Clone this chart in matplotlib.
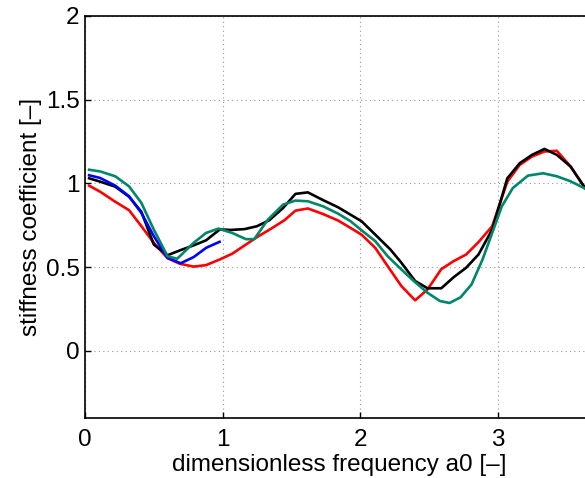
import matplotlib
matplotlib.use("Agg")
import matplotlib.pyplot as plt

# values
x_black = [0.03, 0.11, 0.22, 0.32, 0.41, 0.50, 0.60, 0.69, 0.79, 0.88, 0.98, 1.06, 1.16,
           1.25, 1.34, 1.44, 1.53, 1.62, 1.73, 1.84, 1.93, 2.01, 2.11, 2.22, 2.30, 2.40,
           2.49, 2.59, 2.68, 2.77, 2.86, 2.96, 3.07, 3.16, 3.25, 3.34, 3.43, 3.53, 3.62, 3.70]
y_black = [1.03, 1.01, 0.98, 0.92, 0.83, 0.635, 0.571, 0.60, 0.63, 0.66, 0.725, 0.722, 0.727,
           0.744, 0.78, 0.853, 0.937, 0.946, 0.90, 0.857, 0.813, 0.774, 0.694, 0.605, 0.526, 0.417,
           0.374, 0.374, 0.44, 0.496, 0.575, 0.724, 1.03, 1.12, 1.17, 1.205, 1.17, 1.10, 0.99, 0.90]

x_red = [0.03, 0.11, 0.22, 0.32, 0.41, 0.50, 0.60, 0.69, 0.79, 0.88, 0.98, 1.07, 1.17,
         1.26, 1.35, 1.45, 1.53, 1.62, 1.73, 1.84, 1.93, 2.01, 2.11, 2.20, 2.30, 2.40,
         2.49, 2.59, 2.68, 2.77, 2.86, 2.96, 3.07, 3.16, 3.25, 3.34, 3.43, 3.53, 3.62, 3.70]
y_red = [0.986, 0.95, 0.89, 0.84, 0.744, 0.645, 0.553, 0.52, 0.503, 0.512, 0.546, 0.58, 0.635,
         0.684, 0.728, 0.78, 0.837, 0.85, 0.817, 0.778, 0.734, 0.694, 0.615, 0.506, 0.387, 0.302,
         0.367, 0.488, 0.536, 0.575, 0.649, 0.744, 1.01, 1.11, 1.16, 1.19, 1.194, 1.10, 0.99, 0.90]

x_green = [0.03, 0.11, 0.22, 0.32, 0.41, 0.50, 0.60, 0.67, 0.79, 0.88, 0.97, 1.07, 1.17,
           1.23, 1.33, 1.44, 1.53, 1.62, 1.73, 1.84, 1.93, 2.01, 2.11, 2.20, 2.30, 2.39,
           2.49, 2.58, 2.65, 2.73, 2.81, 2.89, 2.96, 3.03, 3.11, 3.22, 3.33, 3.43, 3.53, 3.62, 3.70]
y_green = [1.081, 1.071, 1.042, 0.982, 0.883, 0.724, 0.565, 0.55, 0.645, 0.704, 0.73, 0.704, 0.667,
           0.667, 0.784, 0.873, 0.897, 0.893, 0.863, 0.819, 0.774, 0.72, 0.655, 0.565, 0.486, 0.417,
           0.347, 0.298, 0.286, 0.32, 0.397, 0.546, 0.704, 0.863, 0.972, 1.046, 1.06, 1.042, 1.012, 0.975, 0.94]

x_blue = [0.03, 0.11, 0.22, 0.32, 0.41, 0.50, 0.60, 0.695, 0.79, 0.88, 0.978]
y_blue = [1.048, 1.032, 0.986, 0.923, 0.823, 0.685, 0.556, 0.523, 0.56, 0.615, 0.651]

xticks = [0, 1, 2, 3]
yticks = [0, 0.5, 1, 1.5, 2]
yticklabels = ["0", "0.5", "1", "1.5", "2"]

plt.rcParams['font.family'] = ['Liberation Sans', 'DejaVu Sans']
plt.rcParams['font.size'] = 17.5

fig = plt.figure(figsize=(5.85, 4.78), dpi=100)
# the right part of the axes runs just past the picture edge, as in the reference
ax = fig.add_axes([85/585, 1 - 418/478, (594 - 85)/585, (418 - 15.7)/478])

lw = 1.9
ax.plot(x_red, y_red, color=(1, 0, 0), linewidth=lw)
ax.plot(x_black, y_black, color='k', linewidth=lw)
ax.plot(x_blue, y_blue, color=(0, 0, 1), linewidth=lw)
ax.plot(x_green, y_green, color='#00876a', linewidth=lw)

ax.set_xlim(0, 3.7)
ax.set_ylim(-0.4, 2)
ax.set_xticks(xticks)
ax.set_yticks(yticks)
ax.set_yticklabels(yticklabels)
ax.grid(True, color='#999999', linestyle=(0, (1, 3)), linewidth=0.8)
ax.tick_params(direction='in', length=4, width=1, top=False, right=False)
ax.tick_params(axis='x', pad=8)
ax.tick_params(axis='y', pad=4)
for s in ax.spines.values():
    s.set_linewidth(1.2)

ax.set_xlabel("dimensionless frequency a0 [–]", labelpad=2)
ax.set_ylabel("stiffness coefficient [–]", labelpad=2.5)

fig.savefig("out.png", dpi=100)
